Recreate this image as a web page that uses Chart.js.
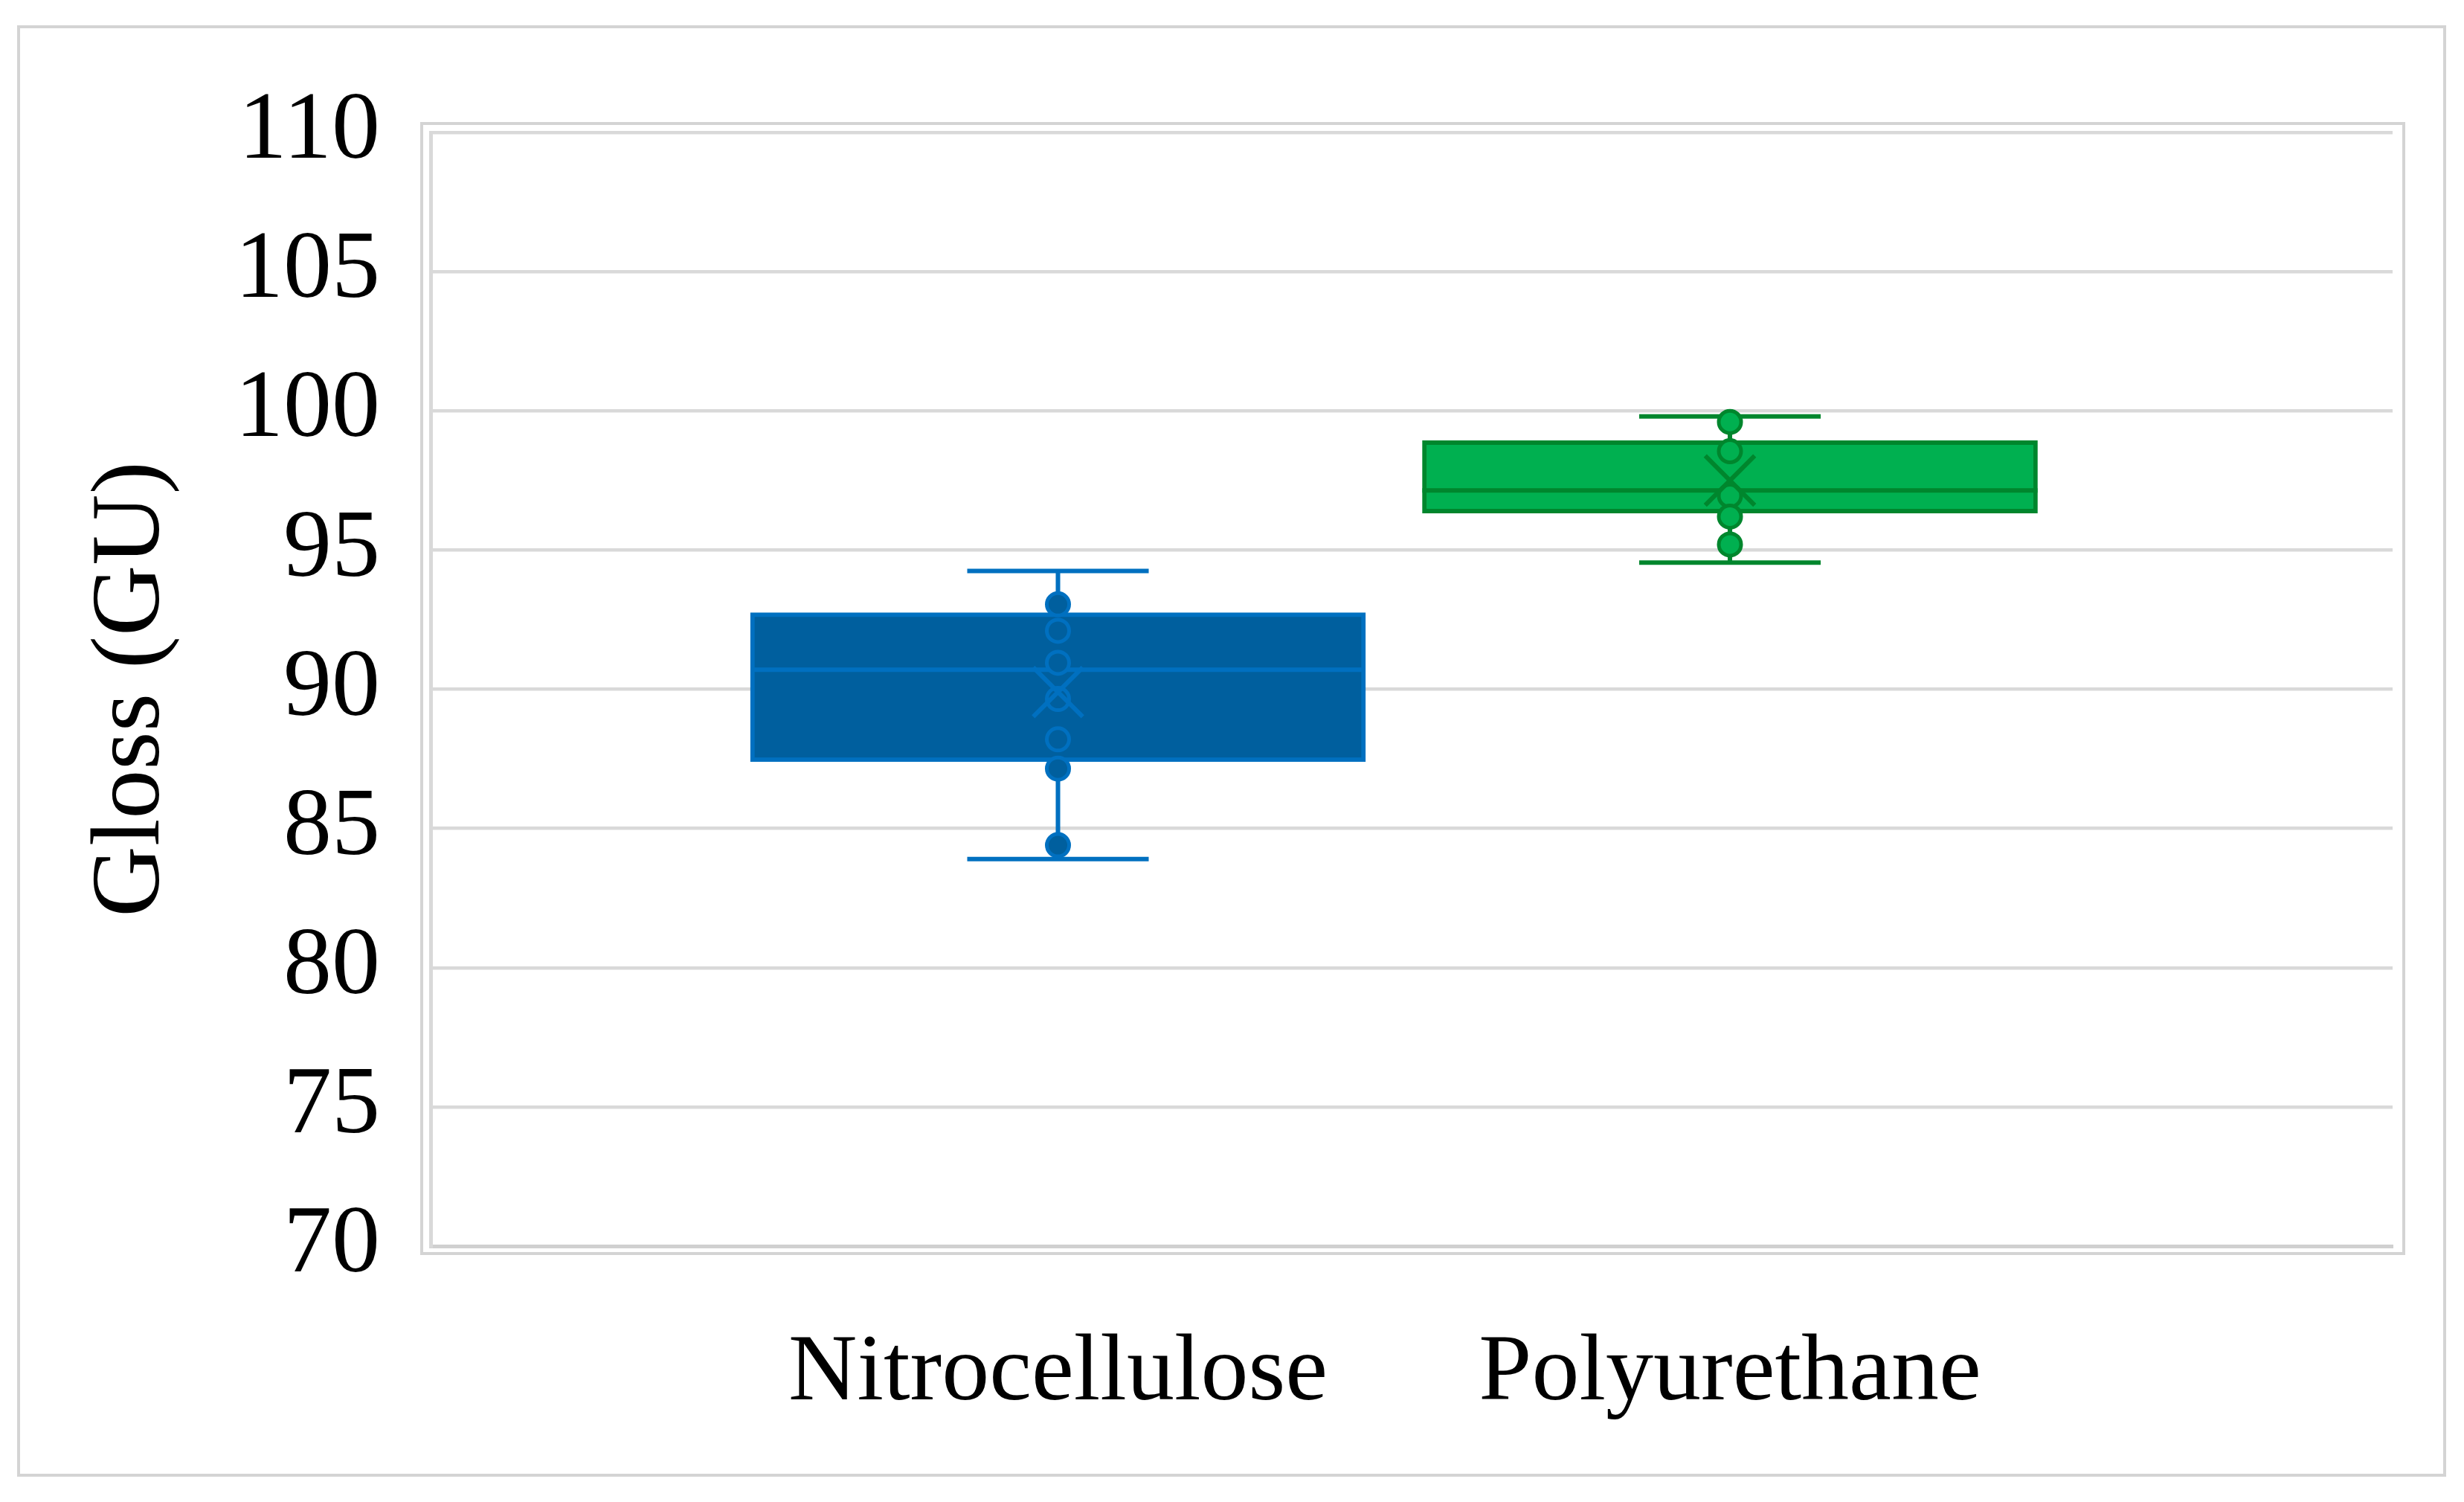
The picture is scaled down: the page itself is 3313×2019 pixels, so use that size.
<!DOCTYPE html>
<html>
<head>
<meta charset="utf-8">
<title>Gloss (GU)</title>
<script src="https://cdn.jsdelivr.net/npm/chart.js@4.4.1/dist/chart.umd.min.js"></script>
<style>
  html, body { margin: 0; padding: 0; background: #fff; }
  canvas { display: block; }
</style>
</head>
<body>
<canvas id="glossChart" width="3313" height="2019"></canvas>
<script>
// --- values ---
const categories  = ['Nitrocellulose', 'Polyurethane'];
const whiskerLow  = [83.9, 94.55];
const quartile1   = [87.4, 96.33];
const medians     = [90.7, 97.14];
const quartile3   = [92.75, 98.93];
const whiskerHigh = [94.25, 99.8];
const means       = [89.9, 97.5];
const nitroPoints = [93.05, 92.1, 90.95, 89.65, 88.2, 87.15, 84.4];
const puPoints    = [99.6, 98.55, 96.95, 96.2, 95.2];
const yTicks      = [70, 75, 80, 85, 90, 95, 100, 105, 110];

// layout: where each box sits on the hidden 0..2 x axis, half widths in the same units
const slotPos = [0.6395, 1.3245];
const boxHalf = 0.3135;
const capHalf = 0.0925;

const fills   = ['#005F9E', '#00B050'];
const strokes = ['#0070C0', '#00862D'];
const FONT = "'Liberation Serif', 'Times New Roman', serif";
const GRID = '#D9D9D9';

function whiskerData(i) {
  const x = slotPos[i];
  return [
    { x: x - capHalf, y: whiskerHigh[i] }, { x: x + capHalf, y: whiskerHigh[i] },
    { x: x, y: null },
    { x: x, y: whiskerHigh[i] }, { x: x, y: whiskerLow[i] },
    { x: x, y: null },
    { x: x - capHalf, y: whiskerLow[i] }, { x: x + capHalf, y: whiskerLow[i] }
  ];
}

function medianData(i) {
  return [{ x: slotPos[i] - boxHalf, y: medians[i] }, { x: slotPos[i] + boxHalf, y: medians[i] }];
}

function pointData(i, values) {
  return values.map(v => ({ x: slotPos[i], y: v }));
}

// box width in pixels, taken from the x scale
function boxPixels(chart) {
  const x = chart.scales && chart.scales.x;
  if (!x) return 10;
  const w = x.getPixelForValue(boxHalf * 2) - x.getPixelForValue(0);
  return isFinite(w) && w > 0 ? w : 10;
}

// light grey frames round the figure and the plot area
const frames = {
  id: 'frames',
  beforeDraw(chart) {
    const { ctx, chartArea: a } = chart;
    ctx.save();
    ctx.strokeStyle = '#D4D4D4';
    ctx.lineWidth = 4;
    ctx.strokeRect(25, 36, chart.width - 51, chart.height - 72);
    ctx.strokeRect(a.left - 12, a.top - 12, a.width + 27, a.height + 22);
    ctx.restore();
  }
};

const datasets = [];
categories.forEach((c, i) => {
  datasets.push({
    type: 'line', label: c + ' whiskers', order: 5,
    data: whiskerData(i),
    borderColor: strokes[i], borderWidth: 6, pointRadius: 0, spanGaps: false, fill: false
  });
});
datasets.push({
  type: 'bar', label: 'boxes', order: 4,
  data: categories.map((c, i) => ({ x: slotPos[i], y: [quartile1[i], quartile3[i]] })),
  backgroundColor: fills, borderColor: strokes, borderWidth: 6, borderSkipped: false,
  barThickness: ctx => boxPixels(ctx.chart)
});
categories.forEach((c, i) => {
  datasets.push({
    type: 'line', label: c + ' median', order: 3,
    data: medianData(i),
    borderColor: strokes[i], borderWidth: 6, pointRadius: 0, fill: false
  });
});
[nitroPoints, puPoints].forEach((vals, i) => {
  datasets.push({
    type: 'scatter', label: categories[i] + ' points', order: 2,
    data: pointData(i, vals),
    pointRadius: 15, pointBorderWidth: 5,
    pointBackgroundColor: fills[i], pointBorderColor: strokes[i]
  });
});
datasets.push({
  type: 'scatter', label: 'means', order: 1,
  data: categories.map((c, i) => ({ x: slotPos[i], y: means[i] })),
  pointStyle: 'crossRot', pointRadius: 47, pointBorderWidth: 6,
  pointBorderColor: strokes
});

new Chart(document.getElementById('glossChart'), {
  type: 'bar',
  data: { datasets },
  plugins: [frames],
  options: {
    responsive: false,
    animation: false,
    events: [],
    layout: { padding: { top: 178, right: 96, left: 0, bottom: 44 } },
    plugins: { legend: { display: false }, tooltip: { enabled: false } },
    scales: {
      x: {
        type: 'linear', min: 0, max: 2, offset: false,
        grid: { display: false },
        border: { display: true, color: '#D0D0D0', width: 5 },
        afterBuildTicks: scale => { scale.ticks = slotPos.map(v => ({ value: v })); },
        afterFit: scale => { scale.height = 300; },
        ticks: {
          autoSkip: false, maxRotation: 0, padding: 88, color: '#000',
          font: { family: FONT, size: 128 },
          callback: (value, index) => categories[index]
        }
      },
      y: {
        type: 'linear', min: 70, max: 110,
        afterBuildTicks: scale => { scale.ticks = yTicks.map(v => ({ value: v })); },
        afterFit: scale => { scale.width = 579; },
        grid: { color: GRID, lineWidth: 4.5, drawTicks: false },
        border: { display: true, color: GRID, width: 5 },
        ticks: {
          padding: 68, color: '#000',
          font: { family: FONT, size: 130 }
        },
        title: {
          display: true, text: 'Gloss (GU)', color: '#000',
          padding: { top: 99, bottom: 0 },
          font: { family: FONT, size: 132 }
        }
      }
    }
  }
});
</script>
</body>
</html>
